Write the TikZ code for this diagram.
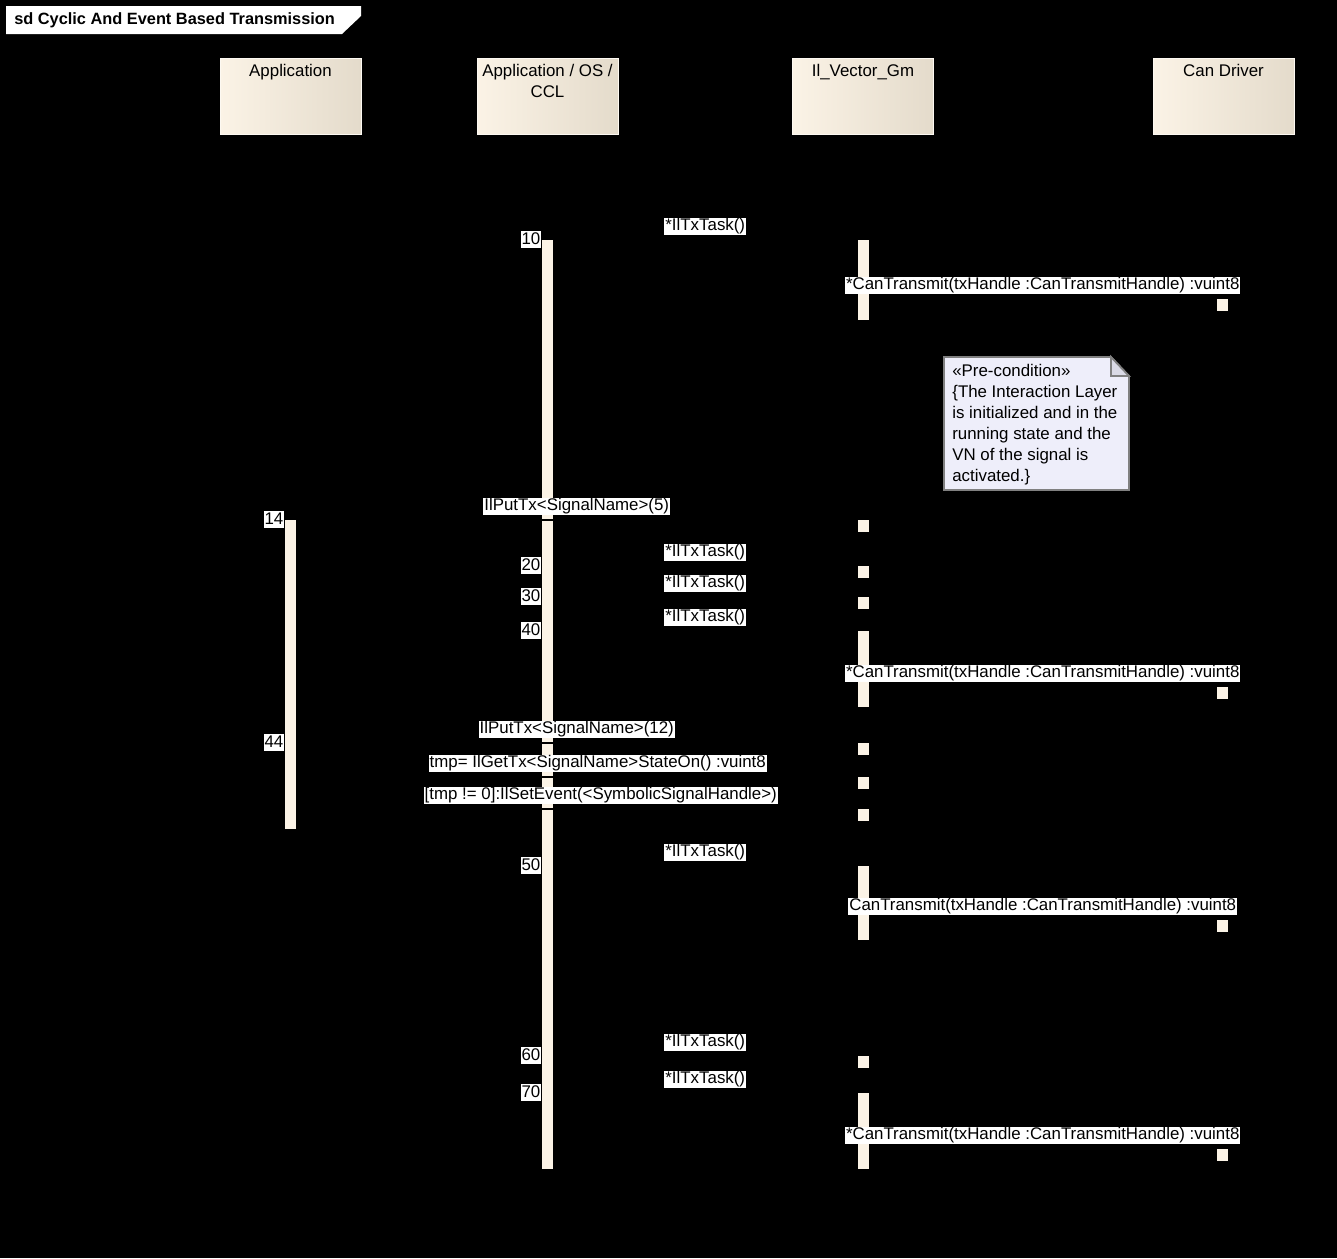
\documentclass[tikz,border=0pt]{standalone}
\usepackage{fontspec}
\setmainfont{Liberation Sans}
\usetikzlibrary{arrows.meta,positioning}
\definecolor{cream}{HTML}{FBF3E6}
\definecolor{sand}{HTML}{E4DBCB}
\definecolor{notefill}{HTML}{EEEEFA}
\definecolor{notedraw}{HTML}{808080}
\definecolor{fold}{HTML}{DADAE6}

\begin{document}
\begin{tikzpicture}[x=0.02cm, y=-0.02cm,
  head/.style={rectangle, minimum width=2.82cm, minimum height=1.52cm, left color=cream, right color=sand, draw=cream!50!white, line width=0.4pt},
  headtxt/.style={anchor=north, inner sep=0.12cm, align=center, font=\fontsize{9.6}{11.9}\selectfont},
  bar/.style={rectangle, fill=cream, minimum width=0.22cm, inner sep=0pt, anchor=north},
  sq/.style={bar, minimum height=0.23cm},
  lbl/.style={fill=white, inner xsep=0.02cm, inner ysep=0.02cm, text height=0.24cm, text depth=0.06cm, font=\fontsize{9.6}{12}\selectfont},
  num/.style={lbl, anchor=east, yshift=0.01cm},
  msgtxt/.style={lbl, midway, anchor=south, yshift=0.09cm},
  msg/.style={-{Stealth[length=5pt]}, black, line width=0.8pt}
]
\fill[black] (0,0) rectangle (1337,1258);

\fill[white] (6,6) -- (361,6) -- (361,16) -- (342,34) -- (6,34) -- cycle;
\node[anchor=west, inner sep=0pt, font=\fontsize{9.3}{11}\selectfont\bfseries] (title) at (14,20) {sd Cyclic And Event Based Transmission};

\node[head, label={[headtxt]north:Application}] (app) at (290.5,96) {};
\node[head, label={[headtxt]north:{Application / OS /\\CCL}}] (os) at (547.5,96) {};
\node[head, label={[headtxt]north:Il\_Vector\_Gm}] (vec) at (863,96) {};
\node[head, label={[headtxt]north:Can Driver}] (can) at (1223.5,96) {};

\node[bar, minimum height=18.58cm] (osbar) at (547.5,240) {};
\node[bar, minimum height=6.18cm] (appbar) at (290.5,520) {};
\node[bar, minimum height=1.6cm] (va) at (863,240) {};
\node[bar, minimum height=1.52cm] (vb) at (863,631) {};
\node[bar, minimum height=1.48cm] (vc) at (863,866) {};
\node[bar, minimum height=1.52cm] (vd) at (863,1093) {};
\node[sq] (v1) at (863,520) {};
\node[sq] (v2) at (863,566) {};
\node[sq] (v3) at (863,597) {};
\node[sq] (v4) at (863,743) {};
\node[sq] (v5) at (863,777) {};
\node[sq] (v6) at (863,809) {};
\node[sq] (v7) at (863,1056) {};
\node[sq] (c1) at (1222.5,299) {};
\node[sq] (c2) at (1222.5,687) {};
\node[sq] (c3) at (1222.5,920) {};
\node[sq] (c4) at (1222.5,1149) {};

\filldraw[fill=notefill, draw=notedraw, line width=1pt] (944,357) -- (1111,357) -- (1129,376) -- (1129,490) -- (944,490) -- cycle;
\filldraw[fill=fold, draw=notedraw, line width=1pt] (1111,357) -- (1111,376) -- (1129,376) -- cycle;
\node[anchor=north west, align=left, inner sep=0pt, font=\fontsize{9.6}{11.9}\selectfont] (pre) at (952,364) {«Pre-condition»\\\{The Interaction Layer\\is initialized and in the\\running state and the\\VN of the signal is\\activated.\}};

\draw[msg] (osbar.east |- va.north) -- node[msgtxt] {*IlTxTask()} (va.north west);
\draw[msg] (va.east |- c1.north) -- node[msgtxt] {*CanTransmit(txHandle :CanTransmitHandle) :vuint8} (c1.north west);
\draw[msg] (appbar.east |- v1.north) -- node[msgtxt] {IlPutTx<SignalName>(5)} (v1.north west);
\draw[msg] (osbar.east |- v2.north) -- node[msgtxt] {*IlTxTask()} (v2.north west);
\draw[msg] (osbar.east |- v3.north) -- node[msgtxt] {*IlTxTask()} (v3.north west);
\draw[msg] (osbar.east |- vb.north) -- node[msgtxt] {*IlTxTask()} (vb.north west);
\draw[msg] (vb.east |- c2.north) -- node[msgtxt] {*CanTransmit(txHandle :CanTransmitHandle) :vuint8} (c2.north west);
\draw[msg] (appbar.east |- v4.north) -- node[msgtxt] {IlPutTx<SignalName>(12)} (v4.north west);
\draw[msg] (appbar.east |- v5.north) -- node[msgtxt, xshift=0.42cm] {tmp= IlGetTx<SignalName>StateOn() :vuint8} (v5.north west);
\draw[msg] (appbar.east |- v6.north) -- node[msgtxt, xshift=0.48cm] {[tmp != 0]:IlSetEvent(<SymbolicSignalHandle>)} (v6.north west);
\draw[msg] (osbar.east |- vc.north) -- node[msgtxt] {*IlTxTask()} (vc.north west);
\draw[msg] (vc.east |- c3.north) -- node[msgtxt] {CanTransmit(txHandle :CanTransmitHandle) :vuint8} (c3.north west);
\draw[msg] (osbar.east |- v7.north) -- node[msgtxt] {*IlTxTask()} (v7.north west);
\draw[msg] (osbar.east |- vd.north) -- node[msgtxt] {*IlTxTask()} (vd.north west);
\draw[msg] (vd.east |- c4.north) -- node[msgtxt] {*CanTransmit(txHandle :CanTransmitHandle) :vuint8} (c4.north west);

\node[num] (n10) at (osbar.west |- va.north) {10};
\node[num] (n14) at (appbar.west |- v1.north) {14};
\node[num] (n20) at (osbar.west |- v2.north) {20};
\node[num] (n30) at (osbar.west |- v3.north) {30};
\node[num] (n40) at (osbar.west |- vb.north) {40};
\node[num] (n44) at (appbar.west |- v4.north) {44};
\node[num] (n50) at (osbar.west |- vc.north) {50};
\node[num] (n60) at (osbar.west |- v7.north) {60};
\node[num] (n70) at (osbar.west |- vd.north) {70};
\end{tikzpicture}
\end{document}
